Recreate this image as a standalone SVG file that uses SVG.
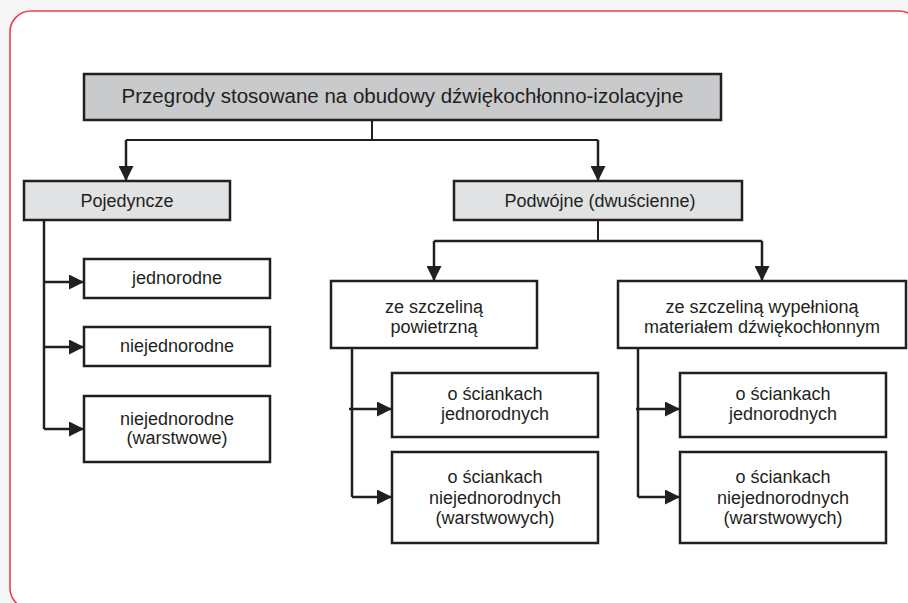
<svg xmlns="http://www.w3.org/2000/svg" width="908" height="603" viewBox="0 0 908 603">
  <defs>
    <marker id="ah" markerUnits="userSpaceOnUse" markerWidth="15" markerHeight="15" viewBox="0 0 15 15" refX="15" refY="7.5" orient="auto">
      <path d="M0,0 L15,7.5 L0,15 z" fill="#231f20"/>
    </marker>
  </defs>
  <style>
    .box { stroke: #231f20; stroke-width: 2.5; fill: #ffffff; }
    .main { fill: #c9cacc; }
    .lvl1 { fill: #e1e2e3; }
    text { font-family: "Liberation Sans", Arial, sans-serif; font-size: 18px; fill: #231f20; text-anchor: middle; }
    .title { font-size: 20.5px; }
    .ln { stroke: #231f20; stroke-width: 2.5; fill: none; }
    .thin { stroke-width: 2; }
    .arr { marker-end: url(#ah); }
  </style>
  <rect x="0" y="0" width="908" height="603" fill="#f6f6f6"/>
  <rect x="10" y="11" width="910" height="598" rx="21" ry="21" fill="#ffffff" stroke="#ef3e4c" stroke-width="1.6"/>

  <g id="connectors">
    <path class="ln thin" d="M372,120 V140"/>
    <path class="ln thin" d="M126,140 H598"/>
    <path class="ln arr" d="M126,140 V181"/>
    <path class="ln arr" d="M598,140 V181"/>
    <path class="ln" d="M44,220 V429"/>
    <path class="ln arr" d="M44,282 H84"/>
    <path class="ln arr" d="M44,347 H84"/>
    <path class="ln arr" d="M44,429 H84"/>
    <path class="ln thin" d="M598,220 V241"/>
    <path class="ln" d="M434,241 H762"/>
    <path class="ln arr" d="M434,241 V281"/>
    <path class="ln arr" d="M762,241 V281"/>
    <path class="ln" d="M352,348 V497"/>
    <path class="ln arr" d="M349,409 H392"/>
    <path class="ln arr" d="M352,497 H392"/>
    <path class="ln" d="M638,348 V497"/>
    <path class="ln arr" d="M636,409 H680"/>
    <path class="ln arr" d="M638,497 H680"/>
  </g>

  <g id="main">
    <rect class="box main" x="84" y="74" width="637" height="46"/>
    <text class="title" x="402.5" y="103">Przegrody stosowane na obudowy dźwiękochłonno-izolacyjne</text>
  </g>
  <g id="pojedyncze">
    <rect class="box lvl1" x="24" y="181" width="206" height="39"/>
    <text x="127" y="207">Pojedyncze</text>
  </g>
  <g id="podwojne">
    <rect class="box lvl1" x="454" y="181" width="288" height="39"/>
    <text x="600" y="207">Podwójne (dwuścienne)</text>
  </g>
  <g id="jednorodne">
    <rect class="box" x="84" y="259" width="186" height="39"/>
    <text x="177" y="284">jednorodne</text>
  </g>
  <g id="niejednorodne">
    <rect class="box" x="84" y="327" width="186" height="39"/>
    <text x="177" y="352">niejednorodne</text>
  </g>
  <g id="niejednorodne-warstwowe">
    <rect class="box" x="84" y="396" width="186" height="66"/>
    <text x="177" y="425">niejednorodne</text>
    <text x="177" y="444">(warstwowe)</text>
  </g>
  <g id="szczelina-powietrzna">
    <rect class="box" x="331" y="281" width="206" height="67"/>
    <text x="434" y="313">ze szczeliną</text>
    <text x="434" y="333">powietrzną</text>
  </g>
  <g id="szczelina-wypelniona">
    <rect class="box" x="618" y="281" width="288" height="67"/>
    <text x="762" y="313">ze szczeliną wypełnioną</text>
    <text x="762" y="333">materiałem dźwiękochłonnym</text>
  </g>
  <g id="p-jednorodne">
    <rect class="box" x="392" y="373" width="206" height="64"/>
    <text x="495" y="400">o ściankach</text>
    <text x="495" y="420">jednorodnych</text>
  </g>
  <g id="p-niejednorodne">
    <rect class="box" x="392" y="452" width="206" height="91"/>
    <text x="495" y="483">o ściankach</text>
    <text x="495" y="503.5">niejednorodnych</text>
    <text x="495" y="524">(warstwowych)</text>
  </g>
  <g id="w-jednorodne">
    <rect class="box" x="680" y="373" width="206" height="64"/>
    <text x="783" y="400">o ściankach</text>
    <text x="783" y="420">jednorodnych</text>
  </g>
  <g id="w-niejednorodne">
    <rect class="box" x="680" y="452" width="206" height="91"/>
    <text x="783" y="483">o ściankach</text>
    <text x="783" y="503.5">niejednorodnych</text>
    <text x="783" y="524">(warstwowych)</text>
  </g>
</svg>
